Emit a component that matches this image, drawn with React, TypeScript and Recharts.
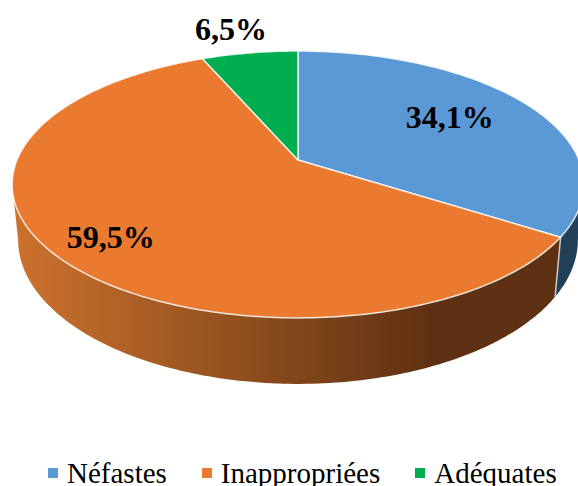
import { Legend, Pie, PieChart } from "recharts"

const categories = ["Néfastes", "Inappropriées", "Adéquates"]
const shares = [34.1, 59.5, 6.5]
const shareLabels = ["34,1%", "59,5%", "6,5%"]
const faceColors = ["#5a99d5", "#e97a30", "#00ad4f"]
const wallFills = ["#224058", "url(#orangeWall)", "#00682f"]

const rows = categories.map((name, i) => ({
  name,
  value: shares[i],
  label: shareLabels[i],
  fill: faceColors[i],
  wall: wallFills[i],
}))

// tilted disc: perspective foreshortening pushes the apex above the ellipse centre
const TILT = 0.1834
const SQUASH = 0.4589
const FACE = { rx: 286, ry: 133.5, dy: 24.5 }
const BASE = { rx: 280, ry: 144, dy: 80 }
const WALL_FROM = 100.6
const WALL_TO = 259.4

// radial placement of each label, plus a small nudge
const labelRadius = [0.66, 0.8, 1.22]
const labelNudge = [
  [-2, -4],
  [2, 3],
  [-10, -5],
]

const rad = (deg: number) => (deg * Math.PI) / 180

function project(theta: number, cx: number, cy: number, r: number, radial = 1) {
  const u = Math.sin(rad(theta)) * radial
  const v = Math.cos(rad(theta)) * radial
  const w = 1 + TILT * v
  return [cx + (r * u) / w, cy - (r * SQUASH * v) / w]
}

function dropToBase(p: number[], cx: number, cy: number) {
  const nx = (p[0] - cx) / FACE.rx
  const ny = (p[1] - cy - FACE.dy) / FACE.ry
  return [cx + nx * BASE.rx, cy + BASE.dy + ny * BASE.ry]
}

function arcPoints(from: number, to: number, cx: number, cy: number, r: number) {
  const pts: number[][] = []
  const steps = Math.max(2, Math.ceil(Math.abs(to - from)))
  for (let i = 0; i <= steps; i++) {
    pts.push(project(from + ((to - from) * i) / steps, cx, cy, r))
  }
  return pts
}

const toPath = (pts: number[][]) =>
  pts.map((p, i) => `${i ? "L" : "M"}${p[0].toFixed(2)},${p[1].toFixed(2)}`).join(" ")

function FaceSlice(props: any) {
  const { cx, cy, outerRadius, startAngle, endAngle, fill } = props
  const pts = arcPoints(90 - startAngle, 90 - endAngle, cx, cy, outerRadius)
  return (
    <path
      d={`M${cx},${cy} ${toPath(pts).replace("M", "L")} Z`}
      fill={fill}
      stroke="#ffffff"
      strokeOpacity={0.8}
      strokeWidth={1.5}
      strokeLinejoin="round"
    />
  )
}

function WallSlice(props: any) {
  const { cx, cy, outerRadius, startAngle, endAngle, payload } = props
  const from = Math.max(90 - startAngle, WALL_FROM)
  const to = Math.min(90 - endAngle, WALL_TO)
  if (to <= from) return <g />
  const top = arcPoints(from, to, cx, cy, outerRadius)
  const bottom = top.map((p) => dropToBase(p, cx, cy)).reverse()
  const seam = 90 - startAngle > WALL_FROM
  return (
    <g>
      <path d={`${toPath(top)} ${toPath(bottom).replace("M", "L")} Z`} fill={payload.wall} />
      {seam && (
        <line
          x1={top[0][0]}
          y1={top[0][1]}
          x2={bottom[bottom.length - 1][0]}
          y2={bottom[bottom.length - 1][1]}
          stroke="#c9c9c9"
          strokeWidth={1.5}
        />
      )}
    </g>
  )
}

function SliceLabel(props: any) {
  const { cx, cy, outerRadius, midAngle, index } = props
  const p = project(90 - midAngle, cx, cy, outerRadius, labelRadius[index])
  return (
    <text
      x={p[0] + labelNudge[index][0]}
      y={p[1] + labelNudge[index][1]}
      textAnchor="middle"
      dominantBaseline="central"
      fontFamily="'Liberation Serif', serif"
      fontWeight="bold"
      fontSize={32}
      fill="#000000"
    >
      {rows[index].label}
    </text>
  )
}

function LegendRow() {
  return (
    <div
      style={{
        display: "flex",
        paddingLeft: 48,
        gap: 35,
        fontFamily: "'Liberation Serif', serif",
        fontSize: 29,
        lineHeight: "32px",
        color: "#000000",
      }}
    >
      {rows.map((item) => (
        <span key={item.name} style={{ display: "flex", alignItems: "center", gap: 9 }}>
          <span style={{ width: 10, height: 10, background: item.fill, display: "inline-block" }} />
          {item.name}
        </span>
      ))}
    </div>
  )
}

export default function App() {
  return (
    <div style={{ position: "absolute", left: 0, top: 0, width: 578, height: 486, overflow: "hidden" }}>
      <PieChart width={578} height={486} margin={{ top: 0, right: 0, bottom: 0, left: 0 }}>
        <defs>
          <linearGradient id="orangeWall" gradientUnits="userSpaceOnUse" x1={14} y1={0} x2={430} y2={0}>
            <stop offset="0%" stopColor="#cd722e" />
            <stop offset="50%" stopColor="#95521f" />
            <stop offset="100%" stopColor="#5f3113" />
          </linearGradient>
        </defs>
        <Pie
          data={rows}
          dataKey="value"
          nameKey="name"
          cx={298}
          cy={160}
          outerRadius={281}
          startAngle={90}
          endAngle={-270}
          stroke="none"
          legendType="none"
          shape={WallSlice}
          isAnimationActive={false}
        />
        <Pie
          data={rows}
          dataKey="value"
          nameKey="name"
          cx={298}
          cy={160}
          outerRadius={281}
          startAngle={90}
          endAngle={-270}
          legendType="square"
          shape={FaceSlice}
          label={SliceLabel}
          labelLine={false}
          isAnimationActive={false}
        />
        <Legend
          content={LegendRow}
          verticalAlign="bottom"
          wrapperStyle={{ left: 0, width: 578, bottom: -3 }}
        />
      </PieChart>
    </div>
  )
}
